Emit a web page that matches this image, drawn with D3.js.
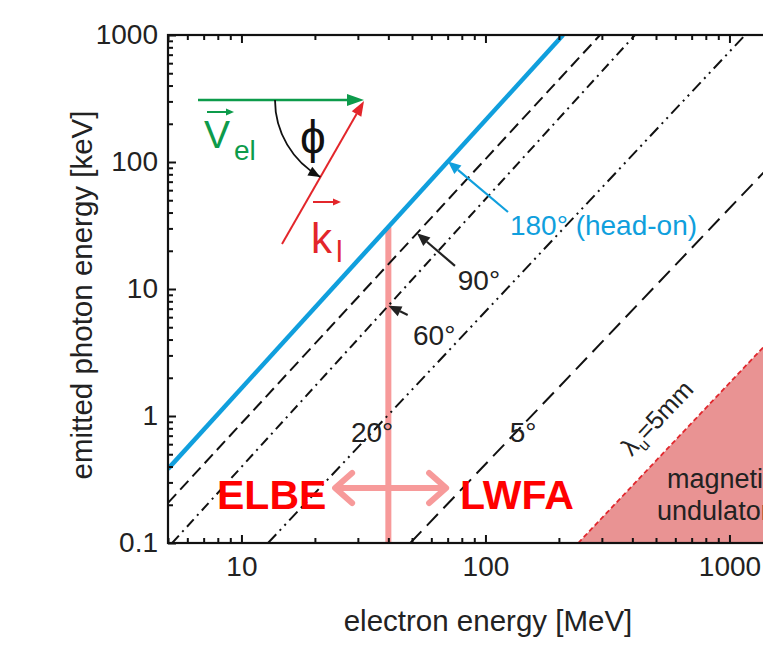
<!DOCTYPE html>
<html>
<head>
<meta charset="utf-8">
<script src="https://cdn.jsdelivr.net/npm/d3@7"></script>
<style>
  body { margin: 0; background: #fff; }
  text { font-family: "Liberation Sans", Arial, sans-serif; }
</style>
</head>
<body>
<svg id="chart" width="763" height="649"></svg>
<script>
// interaction-angle lines, start and end points [MeV, keV]
const angles     = ["180°", "90°", "60°", "20°", "5°"];
const lineStartE = [5, 5, 5.2, 12.85, 49.2];
const lineStartP = [0.383, 0.207, 0.1, 0.1, 0.1];
const lineEndE   = [208, 295, 410, 1160, 1400];
const lineEndP   = [1000, 1000, 1000, 1000, 85];
const lineDash   = ["", "12,6", "10,5,2,5", "12,5,2,5,2,5", "16,8"];

// magnetic undulator limit (lambda_u = 5 mm)
const undE = [240, 1400];
const undP = [0.1, 3.6];

// accelerator boundary ELBE / LWFA
const elbeE = 40;

const xTicks = [10, 100, 1000];
const yTicks = [0.1, 1, 10, 100, 1000];

const blue = "#109fdd", pink = "#f79a9a";

const svg = d3.select("#chart");
const x = d3.scaleLog().domain([5, 2000]).range([168, 168 + 244 * Math.log10(400)]);
const y = d3.scaleLog().domain([0.1, 1000]).range([543, 35]);

svg.append("clipPath").attr("id", "plotclip")
    .append("rect")
    .attr("x", x.range()[0]).attr("y", 35)
    .attr("width", x.range()[1] - x.range()[0]).attr("height", 508);

const plot = svg.append("g").attr("clip-path", "url(#plotclip)");

// undulator region
const und = undE.map((e, i) => [e, undP[i]]);
plot.append("path")
    .datum(und)
    .attr("d", d3.area().x(d => x(d[0])).y0(y(0.1)).y1(d => y(d[1])))
    .attr("fill", "#e99393");
plot.append("path")
    .datum(und)
    .attr("d", d3.line().x(d => x(d[0])).y(d => y(d[1])))
    .attr("fill", "none")
    .attr("stroke", "#e0282e")
    .attr("stroke-width", 1.8)
    .attr("stroke-dasharray", "5,3");

// point on angle line i at energy e (straight line in log-log)
function lineAt(i, e) {
    const t = (Math.log(e) - Math.log(lineStartE[i])) / (Math.log(lineEndE[i]) - Math.log(lineStartE[i]));
    return Math.exp(Math.log(lineStartP[i]) + t * (Math.log(lineEndP[i]) - Math.log(lineStartP[i])));
}

// ELBE vertical line
plot.append("line")
    .attr("x1", x(elbeE)).attr("x2", x(elbeE))
    .attr("y1", y(lineAt(0, elbeE))).attr("y2", y(0.1))
    .attr("stroke", pink).attr("stroke-width", 6);

// angle lines
plot.selectAll(".angle")
    .data(angles)
    .enter()
    .append("line")
    .attr("class", "angle")
    .attr("x1", (d, i) => x(lineStartE[i]))
    .attr("y1", (d, i) => y(lineStartP[i]))
    .attr("x2", (d, i) => x(lineEndE[i]))
    .attr("y2", (d, i) => y(lineEndP[i]))
    .attr("stroke", (d, i) => i == 0 ? blue : "#111")
    .attr("stroke-width", (d, i) => i == 0 ? 4.5 : 2)
    .attr("stroke-dasharray", (d, i) => lineDash[i]);

// axes, ticks pointing inward
const fmt = d => d >= 1 ? d3.format("d")(d) : d;
const minorX = x.ticks().filter(d => !xTicks.includes(d));
const minorY = y.ticks().filter(d => !yTicks.includes(d));

function styleAxis(g) {
    g.select(".domain").remove();
    g.selectAll("line").attr("stroke", "#111").attr("stroke-width", 2);
    g.selectAll("text").attr("font-size", 28).attr("fill", "#222")
        .attr("font-family", "Liberation Sans, Arial, sans-serif");
}

svg.append("g").attr("transform", "translate(0,543)")
    .call(d3.axisBottom(x).tickValues(xTicks).tickFormat(fmt).tickSize(-8).tickPadding(13))
    .call(styleAxis);
svg.append("g").attr("transform", "translate(0,543)")
    .call(d3.axisBottom(x).tickValues(minorX).tickFormat("").tickSize(-5))
    .call(styleAxis);
svg.append("g").attr("transform", "translate(0,35)")
    .call(d3.axisTop(x).tickValues(xTicks).tickFormat("").tickSize(-8))
    .call(styleAxis);
svg.append("g").attr("transform", "translate(0,35)")
    .call(d3.axisTop(x).tickValues(minorX).tickFormat("").tickSize(-5))
    .call(styleAxis);
svg.append("g").attr("transform", "translate(168,0)")
    .call(d3.axisLeft(y).tickValues(yTicks).tickFormat(fmt).tickSize(-8).tickPadding(10))
    .call(styleAxis);
svg.append("g").attr("transform", "translate(168,0)")
    .call(d3.axisLeft(y).tickValues(minorY).tickFormat("").tickSize(-5))
    .call(styleAxis);

// frame
svg.append("rect")
    .attr("x", x.range()[0]).attr("y", 35)
    .attr("width", x.range()[1] - x.range()[0]).attr("height", 508)
    .attr("fill", "none").attr("stroke", "#111").attr("stroke-width", 2.2);

// axis titles
svg.append("text")
    .attr("x", 488).attr("y", 631)
    .attr("text-anchor", "middle").attr("font-size", 29.5).attr("fill", "#222")
    .text("electron energy [MeV]");
svg.append("text")
    .attr("transform", "translate(92,295) rotate(-90)")
    .attr("text-anchor", "middle").attr("font-size", 29.5).attr("fill", "#222")
    .text("emitted photon energy [keV]");

// arrows
function arrow(g, x1, y1, x2, y2, color, w, len, half) {
    const a = Math.atan2(y2 - y1, x2 - x1);
    const bx = x2 - len * Math.cos(a), by = y2 - len * Math.sin(a);
    g.append("line")
        .attr("x1", x1).attr("y1", y1).attr("x2", bx).attr("y2", by)
        .attr("stroke", color).attr("stroke-width", w);
    g.append("path")
        .attr("d", "M" + x2 + "," + y2 +
            "L" + (bx + half * Math.sin(a)) + "," + (by - half * Math.cos(a)) +
            "L" + (bx - half * Math.sin(a)) + "," + (by + half * Math.cos(a)) + "Z")
        .attr("fill", color);
}

// angle annotations: label position, arrow tail, arrow tip energy
const notes = [
    { t: "180° (head-on)", i: 0, lx: 126, ly: 26.6, ax: 123.7, ay: 40.4, tip: 70.2, c: blue },
    { t: "90°", i: 1, lx: 77, ly: 9.8, ax: 75, ay: 15.2, tip: 52.4, c: "#222" },
    { t: "60°", i: 2, lx: 50.5, ly: 3.62, ax: 48, ay: 6.24, tip: 40, c: "#222" }
];
notes.forEach(n => {
    arrow(svg, x(n.ax), y(n.ay), x(n.tip), y(lineAt(n.i, n.tip)), n.c, 2.2, 13, 5.5);
    svg.append("text").attr("x", x(n.lx)).attr("y", y(n.ly))
        .attr("font-size", 28).attr("fill", n.c).text(n.t);
});
svg.append("text").attr("x", x(34.3)).attr("y", y(0.62))
    .attr("text-anchor", "middle").attr("font-size", 28).attr("fill", "#222").text("20°");
svg.append("text").attr("x", x(142.6)).attr("y", y(0.62))
    .attr("text-anchor", "middle").attr("font-size", 28).attr("fill", "#222").text("5°");

// ELBE / LWFA
const ay = y(0.271);
svg.append("line")
    .attr("x1", x(24.2)).attr("x2", x(69)).attr("y1", ay).attr("y2", ay)
    .attr("stroke", pink).attr("stroke-width", 6);
[[24.2, 1], [69, -1]].forEach(([e, s]) => {
    const px = x(e);
    svg.append("path")
        .attr("d", "M" + (px + s * 17) + "," + (ay - 15) + "L" + px + "," + ay + "L" + (px + s * 17) + "," + (ay + 15))
        .attr("fill", "none").attr("stroke", pink).attr("stroke-width", 6)
        .attr("stroke-linecap", "round").attr("stroke-linejoin", "round");
});
svg.append("text").attr("x", x(13.3)).attr("y", y(0.186))
    .attr("text-anchor", "middle").attr("font-size", 41).attr("font-weight", "bold")
    .attr("fill", "#ff0000").text("ELBE");
svg.append("text").attr("x", x(134.6)).attr("y", y(0.186))
    .attr("text-anchor", "middle").attr("font-size", 41).attr("font-weight", "bold")
    .attr("fill", "#ff0000").text("LWFA");

// undulator labels (cut at the right edge, as in the source figure)
svg.append("text").attr("x", x(555)).attr("y", y(0.271))
    .attr("font-size", 27).attr("fill", "#222").text("magnetic");
svg.append("text").attr("x", x(505)).attr("y", y(0.152))
    .attr("font-size", 27).attr("fill", "#222").text("undulator");
const rot = Math.atan2(y(undP[1]) - y(undP[0]), x(undE[1]) - x(undE[0])) * 180 / Math.PI;
const lam = svg.append("text")
    .attr("transform", "translate(" + x(398) + "," + y(0.475) + ") rotate(" + rot + ")")
    .attr("font-size", 25).attr("fill", "#222");
lam.append("tspan").text("λ");
lam.append("tspan").attr("font-size", 16).attr("dy", 6).text("u");
lam.append("tspan").attr("dy", -6).text("=5mm");

// inset: velocity and laser wave vectors
const green = "#0d9b4b", red = "#e3262b";
const inset = svg.append("g");
arrow(inset, 198, 100, 364, 100, green, 2.6, 17, 6);
arrow(inset, 282, 244, 364, 101, red, 2, 15, 5.5);
const cx = 363, cy = 100, r = 88, a1 = 119 * Math.PI / 180;
const ex = cx + r * Math.cos(a1), ey = cy + r * Math.sin(a1);
inset.append("path")
    .attr("d", "M" + (cx - r) + "," + cy + "A" + r + "," + r + " 0 0 0 " + ex + "," + ey)
    .attr("fill", "none").attr("stroke", "#111").attr("stroke-width", 1.8);
{
    const dx = Math.sin(a1), dy = -Math.cos(a1);
    const bx = ex - 12 * dx, by = ey - 12 * dy;
    inset.append("path")
        .attr("d", "M" + ex + "," + ey + "L" + (bx - 5 * dy) + "," + (by + 5 * dx) + "L" + (bx + 5 * dy) + "," + (by - 5 * dx) + "Z")
        .attr("fill", "#111");
}
inset.append("text").attr("x", 313).attr("y", 153)
    .attr("text-anchor", "middle").attr("font-size", 46)
    .attr("font-family", "Liberation Serif, DejaVu Serif, serif").attr("fill", "#111").text("ϕ");
inset.append("text").attr("x", 204).attr("y", 148)
    .attr("font-size", 39).attr("fill", green).text("V");
inset.append("text").attr("x", 234).attr("y", 160)
    .attr("font-size", 28).attr("fill", green).text("el");
arrow(inset, 207, 112, 234, 112, green, 2, 8, 3.5);
inset.append("text").attr("x", 311).attr("y", 253)
    .attr("font-size", 42).attr("fill", red).text("k");
inset.append("text").attr("x", 336).attr("y", 262)
    .attr("font-size", 30).attr("fill", red).text("l");
arrow(inset, 313, 202, 341, 202, red, 2, 8, 3.5);
</script>
</body>
</html>
